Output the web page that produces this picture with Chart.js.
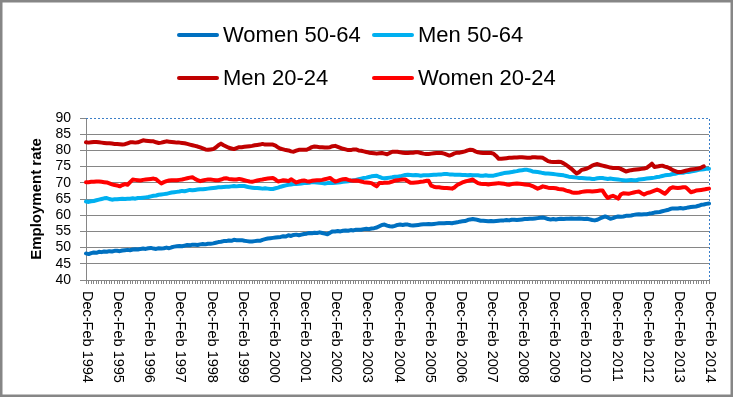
<!DOCTYPE html>
<html>
<head>
<meta charset="utf-8">
<title>Employment rate</title>
<script src="https://cdn.jsdelivr.net/npm/chart.js@4.4.1/dist/chart.umd.min.js"></script>
<style>
  body { margin: 0; background: #ffffff; }
  canvas { display: block; }
</style>
</head>
<body>
<canvas id="employment-chart" width="733" height="397"></canvas>
<script>
/***** Data *****/
// Rolling three-month periods, first period of each year is Dec-Feb
const quarterNames = ["Dec-Feb", "Jan-Mar", "Feb-Apr", "Mar-May", "Apr-Jun", "May-Jul",
  "Jun-Aug", "Jul-Sep", "Aug-Oct", "Sep-Nov", "Oct-Dec", "Nov-Jan"];
const years = [1994, 1995, 1996, 1997, 1998, 1999, 2000, 2001, 2002, 2003,
  2004, 2005, 2006, 2007, 2008, 2009, 2010, 2011, 2012, 2013, 2014];

// Labels shown under the x axis
const tickLabels = ["Dec-Feb 1994", "Dec-Feb 1995", "Dec-Feb 1996", "Dec-Feb 1997",
  "Dec-Feb 1998", "Dec-Feb 1999", "Dec-Feb 2000", "Dec-Feb 2001", "Dec-Feb 2002",
  "Dec-Feb 2003", "Dec-Feb 2004", "Dec-Feb 2005", "Dec-Feb 2006", "Dec-Feb 2007",
  "Dec-Feb 2008", "Dec-Feb 2009", "Dec-Feb 2010", "Dec-Feb 2011", "Dec-Feb 2012",
  "Dec-Feb 2013", "Dec-Feb 2014"];

const yTicks = [40, 45, 50, 55, 60, 65, 70, 75, 80, 85, 90];

// Employment rate (%), one row per year starting at Dec-Feb
const women50to64 = [
  48.2, 48.0, 48.3, 48.5, 48.4, 48.7, 48.6, 48.8, 48.7, 48.9, 48.8, 49.0,
  49.0, 48.9, 49.1, 49.2, 49.3, 49.2, 49.4, 49.5, 49.4, 49.6, 49.7, 49.6,
  49.8, 49.9, 49.7, 49.6, 49.8, 49.7, 49.8, 50.0, 49.8, 50.1, 50.3, 50.4,
  50.5, 50.4, 50.6, 50.8, 50.7, 50.9, 50.9, 50.8, 51.0, 51.1, 51.0, 51.2,
  51.2, 51.3, 51.5, 51.7, 51.8, 52.0, 52.0, 52.2, 52.1, 52.4, 52.3, 52.3,
  52.3, 52.1, 52.0, 51.9, 51.9, 52.0, 52.1, 52.1, 52.4, 52.6, 52.8, 52.9,
  53.0, 53.1, 53.2, 53.3, 53.5, 53.4, 53.8, 53.6, 53.9, 54.0, 53.8, 54.0,
  54.2, 54.3, 54.5, 54.4, 54.6, 54.5, 54.7, 54.5, 54.3, 54.1, 54.6, 55.0,
  55.0, 55.1, 55.0, 55.2, 55.3, 55.2, 55.4, 55.3, 55.5, 55.5, 55.5, 55.7,
  55.8, 55.7, 55.9, 56.0, 56.2, 56.6, 57.0, 57.1, 56.8, 56.6, 56.5, 56.7,
  57.0, 57.1, 57.0, 57.1, 57.1, 56.9, 56.8, 56.9, 57.0, 57.1, 57.2, 57.2,
  57.3, 57.2, 57.3, 57.4, 57.5, 57.5, 57.5, 57.6, 57.6, 57.5, 57.7, 57.8,
  58.0, 58.1, 58.2, 58.5, 58.7, 58.8, 58.7, 58.5, 58.3, 58.3, 58.2, 58.1,
  58.2, 58.1, 58.2, 58.3, 58.4, 58.4, 58.5, 58.4, 58.6, 58.6, 58.5, 58.6,
  58.7, 58.8, 58.8, 58.9, 58.9, 59.0, 59.1, 59.2, 59.3, 59.1, 58.8, 58.7,
  58.8, 58.7, 58.8, 58.9, 58.8, 58.9, 58.9, 59.0, 58.9, 58.9, 59.0, 58.9,
  58.8, 58.9, 58.7, 58.5, 58.4, 58.6, 59.0, 59.3, 59.6, 59.3, 58.9, 59.1,
  59.4, 59.6, 59.5, 59.6, 59.8, 59.8, 59.9, 60.1, 60.2, 60.3, 60.2, 60.3,
  60.3, 60.5, 60.6, 60.8, 60.9, 61.0, 61.2, 61.4, 61.6, 61.9, 62.1, 62.1,
  62.1, 62.2, 62.1, 62.2, 62.4, 62.5, 62.6, 62.7, 62.9, 63.2, 63.3, 63.5,
  63.6,
];

const men50to64 = [
  64.2, 64.1, 64.3, 64.4, 64.6, 64.8, 65.0, 65.2, 65.3, 65.0, 64.8, 64.9,
  64.9, 65.0, 65.1, 65.0, 65.1, 65.1, 65.2, 65.1, 65.3, 65.3, 65.4, 65.5,
  65.6, 65.8, 66.0, 66.1, 66.3, 66.4, 66.5, 66.6, 66.8, 67.0, 67.1, 67.2,
  67.3, 67.5, 67.4, 67.6, 67.8, 67.7, 67.8, 67.9, 68.0, 68.0, 68.1, 68.2,
  68.3, 68.4, 68.5, 68.6, 68.6, 68.7, 68.8, 68.8, 68.9, 69.0, 68.9, 69.0,
  69.0, 69.0, 68.8, 68.6, 68.5, 68.4, 68.4, 68.3, 68.2, 68.3, 68.2, 68.1,
  68.1, 68.3, 68.5, 68.8, 69.0, 69.2, 69.4, 69.5, 69.6, 69.6, 69.7, 69.8,
  69.9, 69.9, 70.0, 70.2, 70.2, 70.1, 70.0, 69.9, 69.8, 69.9, 69.9, 69.9,
  70.0, 70.1, 70.2, 70.3, 70.4, 70.5, 70.6, 70.8, 70.9, 71.1, 71.3, 71.5,
  71.6, 71.8, 72.0, 72.1, 72.2, 71.8, 71.5, 71.4, 71.5, 71.6, 71.7, 71.9,
  71.9, 72.0, 72.2, 72.4, 72.5, 72.4, 72.3, 72.4, 72.3, 72.2, 72.3, 72.3,
  72.3, 72.4, 72.5, 72.5, 72.6, 72.6, 72.7, 72.7, 72.6, 72.6, 72.5, 72.5,
  72.5, 72.4, 72.4, 72.3, 72.4, 72.3, 72.3, 72.3, 72.2, 72.2, 72.3, 72.2,
  72.2, 72.2, 72.4, 72.6, 72.8, 73.0, 73.1, 73.2, 73.3, 73.5, 73.6, 73.8,
  73.9, 74.0, 74.0, 73.8, 73.5, 73.4, 73.3, 73.2, 73.0, 72.9, 72.9, 72.8,
  72.7, 72.6, 72.5, 72.4, 72.3, 72.1, 71.9, 71.8, 71.7, 71.6, 71.5, 71.5,
  71.4, 71.3, 71.3, 71.2, 71.2, 71.4, 71.5, 71.5, 71.3, 71.2, 71.3, 71.2,
  71.1, 71.0, 70.9, 70.8, 70.7, 70.8, 70.9, 70.8, 70.8, 71.0, 71.1, 71.2,
  71.3, 71.4, 71.5, 71.6, 71.8, 71.9, 72.1, 72.3, 72.4, 72.5, 72.7, 72.8,
  73.0, 73.1, 73.1, 73.3, 73.3, 73.5, 73.6, 73.8, 74.0, 74.1, 74.2, 74.3,
  74.3,
];

const men20to24 = [
  82.5, 82.4, 82.5, 82.6, 82.6, 82.5, 82.4, 82.3, 82.2, 82.2, 82.1, 82.0,
  82.0, 81.9, 81.8, 81.9, 82.2, 82.5, 82.5, 82.4, 82.5, 82.8, 83.1, 83.0,
  82.9, 82.8, 82.8, 82.5, 82.3, 82.4, 82.6, 82.8, 82.7, 82.6, 82.5, 82.4,
  82.4, 82.3, 82.2, 82.0, 81.8, 81.6, 81.4, 81.2, 80.9, 80.6, 80.3, 80.2,
  80.3, 80.4, 80.9, 81.6, 82.1, 81.6, 81.2, 80.8, 80.6, 80.4, 80.7, 81.0,
  81.0, 81.1, 81.2, 81.3, 81.4, 81.6, 81.7, 81.8, 82.0, 81.8, 81.8, 81.8,
  81.8, 81.5, 80.9, 80.5, 80.3, 80.1, 80.0, 79.7, 79.6, 79.9, 80.2, 80.2,
  80.2, 80.2, 80.6, 81.0, 81.2, 81.1, 81.0, 81.0, 80.9, 80.9, 81.0, 81.3,
  81.4, 81.1, 80.8, 80.5, 80.3, 80.1, 80.1, 80.3, 80.3, 80.0, 79.9, 79.7,
  79.5, 79.3, 79.2, 79.1, 79.0, 79.1, 79.2, 79.0, 78.8, 79.2, 79.6, 79.6,
  79.6, 79.4, 79.3, 79.2, 79.2, 79.3, 79.3, 79.4, 79.4, 79.2, 79.0, 78.9,
  78.9, 79.0, 79.1, 79.2, 79.2, 79.2, 79.0, 78.7, 78.4, 78.7, 79.1, 79.3,
  79.3, 79.5, 79.7, 80.0, 80.2, 80.1, 79.7, 79.4, 79.3, 79.2, 79.2, 79.2,
  79.2, 79.0, 78.3, 77.4, 77.4, 77.5, 77.6, 77.7, 77.7, 77.8, 77.8, 77.9,
  77.9, 77.8, 77.7, 77.7, 77.9, 77.9, 77.8, 77.8, 77.7, 77.2, 76.7, 76.5,
  76.4, 76.4, 76.5, 76.4, 76.0, 75.5, 74.9, 74.3, 73.6, 72.9, 73.3, 74.0,
  74.2, 74.4, 74.8, 75.3, 75.6, 75.8, 75.5, 75.3, 75.1, 74.9, 74.7, 74.6,
  74.6, 74.6, 74.3, 73.9, 73.5, 73.7, 73.9, 74.0, 74.1, 74.2, 74.3, 74.4,
  74.6, 75.2, 75.9, 74.9, 75.0, 75.2, 75.3, 75.0, 74.8, 74.4, 73.9, 73.6,
  73.3, 73.3, 73.5, 73.7, 73.9, 74.1, 74.2, 74.3, 74.4, 74.7, 75.1, null,
  null,
];

const women20to24 = [
  70.2, 70.2, 70.3, 70.3, 70.4, 70.4, 70.3, 70.2, 70.1, 69.8, 69.5, 69.3,
  69.2, 68.9, 69.3, 69.6, 69.4, 70.2, 71.0, 70.9, 70.8, 70.7, 70.9, 71.0,
  71.1, 71.2, 71.3, 71.1, 70.4, 69.8, 70.2, 70.5, 70.7, 70.8, 70.8, 70.8,
  70.9, 71.0, 71.2, 71.4, 71.6, 71.7, 71.2, 70.8, 70.5, 70.7, 70.9, 71.0,
  71.0, 70.9, 70.8, 70.8, 71.0, 71.3, 71.4, 71.2, 71.1, 71.0, 71.0, 71.2,
  71.0, 70.8, 70.6, 70.4, 70.3, 70.5, 70.7, 70.9, 71.0, 71.2, 71.3, 71.4,
  71.5, 71.0, 70.4, 70.6, 70.8, 70.7, 70.5, 71.1, 70.6, 70.1, 70.4, 70.6,
  70.7, 70.5, 70.4, 70.6, 70.7, 70.8, 70.8, 70.9, 71.1, 71.3, 71.5, 70.9,
  70.4, 70.6, 70.9, 71.1, 71.2, 70.9, 70.7, 70.6, 70.7, 70.6, 70.4, 70.2,
  70.1, 70.0, 69.9, 69.4, 68.9, 69.9, 69.9, 70.0, 70.0, 70.1, 70.4, 70.7,
  70.8, 70.9, 71.0, 71.0, 70.5, 70.0, 70.0, 70.1, 70.2, 70.3, 70.4, 70.6,
  70.6, 69.1, 68.8, 68.6, 68.6, 68.5, 68.4, 68.4, 68.3, 68.2, 68.6, 69.3,
  69.7, 70.1, 70.4, 70.6, 70.8, 71.0, 70.4, 69.9, 69.7, 69.6, 69.6, 69.5,
  69.6, 69.7, 69.8, 69.9, 69.8, 69.7, 69.5, 69.4, 69.6, 69.7, 69.8, 69.7,
  69.6, 69.5, 69.4, 69.3, 69.0, 68.6, 68.2, 68.5, 68.9, 68.7, 68.5, 68.4,
  68.4, 68.3, 68.1, 68.0, 67.9, 67.6, 67.4, 67.1, 66.9, 66.9, 67.0, 67.2,
  67.3, 67.4, 67.4, 67.3, 67.4, 67.5, 67.6, 67.6, 66.3, 65.3, 65.7, 66.0,
  65.6, 65.1, 66.4, 66.8, 66.7, 66.6, 66.8, 67.0, 67.2, 67.3, 66.8, 66.4,
  66.8, 67.0, 67.3, 67.6, 67.9, 67.6, 67.1, 66.6, 67.4, 68.3, 68.6, 68.5,
  68.4, 68.5, 68.6, 68.6, 67.9, 67.1, 67.3, 67.6, 67.7, 67.8, 67.9, 68.1,
  68.2,
];

// Build the category list: Dec-Feb 1994 ... Dec-Feb 2014
const categories = [];
years.forEach((year, i) => {
  if (i === years.length - 1) {
    categories.push(`${quarterNames[0]} ${year}`);
    return;
  }
  quarterNames.forEach((q, j) => {
    const labelYear = j === 11 ? year + 1 : year;
    categories.push(`${q} ${labelYear}`);
  });
});

/***** Plugins *****/
const FONT = "'Liberation Sans', Arial, sans-serif";
const GRID_GREY = "#868686";

// White background, dotted plot border, outer frame, rotated x labels and legend
const excelLook = {
  id: "excelLook",
  beforeDraw: (chart) => {
    const ctx = chart.ctx;
    ctx.save();
    ctx.fillStyle = "#ffffff";
    ctx.fillRect(0, 0, chart.width, chart.height);
    ctx.restore();
  },
  beforeDatasetsDraw: (chart) => {
    const { ctx, chartArea } = chart;
    ctx.save();
    ctx.strokeStyle = "#3c7fc8";
    ctx.lineWidth = 1;
    ctx.setLineDash([2, 2]);
    ctx.beginPath();
    ctx.moveTo(chartArea.left, Math.round(chartArea.top) + 0.5);
    ctx.lineTo(Math.round(chartArea.right) + 0.5, Math.round(chartArea.top) + 0.5);
    ctx.lineTo(Math.round(chartArea.right) + 0.5, chartArea.bottom);
    ctx.stroke();
    ctx.restore();
  },
  afterDraw: (chart) => {
    const ctx = chart.ctx;
    const xScale = chart.scales.x;

    // x labels, rotated to read from top to bottom
    ctx.save();
    ctx.font = `14.5px ${FONT}`;
    ctx.fillStyle = "#000000";
    ctx.textAlign = "left";
    ctx.textBaseline = "middle";
    categories.forEach((label, i) => {
      if (!tickLabels.includes(label)) return;
      const px = xScale.getPixelForValue(i);
      ctx.save();
      ctx.translate(px + 1, xScale.top + 11);
      ctx.rotate(Math.PI / 2);
      ctx.fillText(label, 0, 0);
      ctx.restore();
    });
    ctx.restore();

    // Legend in two columns
    const legendCols = [177, 372];
    const legendRows = [35, 78];
    ctx.save();
    ctx.font = `22px ${FONT}`;
    ctx.textBaseline = "middle";
    ctx.textAlign = "left";
    chart.data.datasets.forEach((ds, i) => {
      const x = legendCols[i % 2];
      const y = legendRows[Math.floor(i / 2)];
      ctx.strokeStyle = ds.borderColor;
      ctx.lineWidth = 4;
      ctx.lineCap = "round";
      ctx.beginPath();
      ctx.moveTo(x + 2, y);
      ctx.lineTo(x + 40, y);
      ctx.stroke();
      ctx.fillStyle = "#000000";
      ctx.fillText(ds.label, x + 46, y + 1);
    });
    ctx.restore();

    // Outer chart border
    ctx.save();
    ctx.strokeStyle = GRID_GREY;
    ctx.lineWidth = 2.5;
    ctx.strokeRect(1.25, 1.25, chart.width - 2.5, chart.height - 2.5);
    ctx.restore();
  },
};

/***** Chart *****/
Chart.defaults.font.family = FONT;
Chart.defaults.color = "#000000";

const makeSeries = (label, data, color, order) => ({
  label: label,
  data: data,
  borderColor: color,
  backgroundColor: color,
  borderWidth: 4,
  pointRadius: 0,
  tension: 0,
  borderJoinStyle: "round",
  borderCapStyle: "round",
  order: order,
});

new Chart(document.querySelector("#employment-chart"), {
  type: "line",
  data: {
    labels: categories,
    datasets: [
      makeSeries("Women 50-64", women50to64, "#0070C0", 4),
      makeSeries("Men 50-64", men50to64, "#00B0F0", 3),
      makeSeries("Men 20-24", men20to24, "#C00000", 2),
      makeSeries("Women 20-24", women20to24, "#FF0000", 1),
    ],
  },
  options: {
    responsive: false,
    animation: false,
    devicePixelRatio: 1,
    layout: { padding: { top: 118, right: 24, left: 0, bottom: 0 } },
    plugins: {
      legend: { display: false },
      tooltip: { enabled: false },
    },
    scales: {
      x: {
        afterFit: (scale) => {
          scale.height = 117;
        },
        grid: {
          drawOnChartArea: false,
          tickLength: 4,
          color: GRID_GREY,
        },
        border: { color: GRID_GREY },
        ticks: { display: false, autoSkip: false },
      },
      y: {
        min: yTicks[0],
        max: yTicks[yTicks.length - 1],
        afterFit: (scale) => {
          scale.width = 86;
        },
        afterBuildTicks: (scale) => {
          scale.ticks = yTicks.map((v) => ({ value: v }));
        },
        grid: {
          color: (ctx) => (ctx.tick && ctx.tick.value === 90 ? "rgba(0,0,0,0)" : GRID_GREY),
          tickColor: GRID_GREY,
          tickLength: 6,
        },
        border: { color: GRID_GREY },
        ticks: {
          autoSkip: false,
          stepSize: 5,
          padding: 9,
          color: "#000000",
          font: { size: 14 },
        },
        title: {
          display: true,
          text: "Employment rate",
          color: "#000000",
          font: { size: 15, weight: "bold" },
          padding: { top: 28, bottom: 0 },
        },
      },
    },
  },
  plugins: [excelLook],
});
</script>
</body>
</html>
